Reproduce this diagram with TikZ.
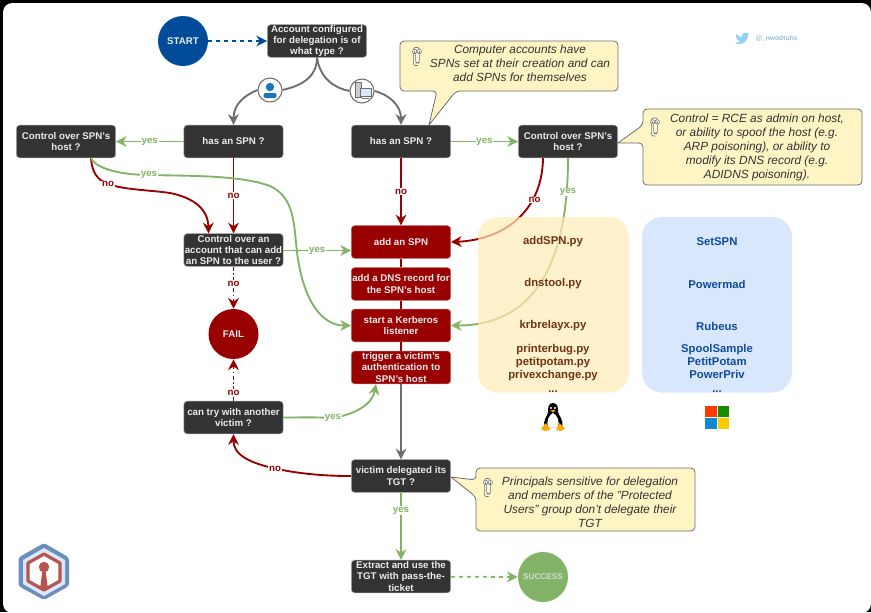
\documentclass[tikz,border=0pt]{standalone}
\usepackage{fontspec}
\setmainfont{Liberation Sans}
\usepackage{xcolor}
\usetikzlibrary{arrows.meta,calc,positioning}
\definecolor{boxdark}{HTML}{333333}
\definecolor{boxred}{HTML}{990000}
\definecolor{startblue}{HTML}{004C99}
\definecolor{yesgreen}{HTML}{82B366}
\definecolor{flowgray}{HTML}{6E6E6E}
\definecolor{notefill}{HTML}{FFF4C3}
\definecolor{panelyellow}{HTML}{FFECB6}
\definecolor{panelblue}{HTML}{CADEFB}
\definecolor{toolbrown}{HTML}{6E3413}
\definecolor{toolblue}{HTML}{0F4C9C}
\definecolor{birdblue}{HTML}{8FD0F5}
\definecolor{logoblue}{HTML}{6C8EBF}
\definecolor{logored}{HTML}{B85450}
\definecolor{logopale}{HTML}{DAE8FC}
\definecolor{usericon}{HTML}{1B75BB}
\tikzset{
    flowbox/.style={draw=gray!70,line width=.4pt,rounded corners=2.5pt,minimum width=74.5pt,minimum height=24.5pt,inner sep=0pt,align=center,text=white!92!black,font=\fontsize{7.3}{8.8}\selectfont\bfseries},
    darkbox/.style={flowbox,fill=boxdark},
    redbox/.style={flowbox,fill=boxred,draw=boxred!60},
    threelines/.style={font=\fontsize{7.3}{8.3}\selectfont\bfseries},
    endpoint/.style={circle,minimum size=37.5pt,inner sep=0pt,text=white!92!black,font=\fontsize{7.3}{8.8}\selectfont\bfseries},
    notebox/.style={draw=flowgray,line width=.6pt,fill=notefill,line join=round},
    notetext/.style={align=center,inner sep=0pt,text=black!80,font=\fontsize{8.9}{10.5}\selectfont\itshape},
    flowtip/.style={-{Stealth[length=8pt,width=8pt,inset=2.5pt]}},
    yeslink/.style={flowtip,draw=yesgreen,line width=1.4pt},
    nolink/.style={flowtip,draw=boxred,line width=1.4pt},
    graylink/.style={flowtip,draw=flowgray,line width=1.4pt},
    yeslab/.style={fill=white,inner sep=.6pt,text=yesgreen,font=\fontsize{7.3}{8}\selectfont\bfseries},
    nolab/.style={fill=white,inner sep=.6pt,text=boxred,font=\fontsize{7.3}{8}\selectfont\bfseries},
    panel/.style={rounded corners=15pt,fill opacity=.7},
    browntool/.style={inner sep=0pt,align=center,text=toolbrown,font=\fontsize{8.5}{10}\selectfont\bfseries},
    bluetool/.style={inner sep=0pt,align=center,text=toolblue,font=\fontsize{8.5}{10}\selectfont\bfseries},
    iconring/.style={circle,draw=flowgray,line width=.8pt,fill=white,minimum size=18pt,inner sep=0pt},
    clipicon/.pic={
        \draw[flowgray,line width=.5pt,rounded corners=1.6pt,fill=white,fill opacity=.4](-1.4,-2)--(-1.4,7)--(2.4,7)--(2.4,-8.5)--(-3.6,-8.5)--(-3.6,9.5)--(0.6,9.5);
        \draw[flowgray,line width=.4pt,fill=white](-2.3,-4.5)circle(2.2);
        \draw[flowgray,line width=.4pt,fill=white](2.3,-4.5)circle(2.2);
        \fill[black!70](-2.3,-4)circle(.8);
        \fill[black!70](2.3,-4)circle(.8);
    }
}
\begin{document}
\begin{tikzpicture}[x=.75pt,y=-.75pt]
                \useasboundingbox (0,0) rectangle (871,612);
                \fill[black](0,0)rectangle(871,612);
                \fill[white,rounded corners=7pt](3,3)rectangle(871,613);
                % notes
                \draw[notebox,rounded corners=3pt](400,41)--(618,41)--(618,91)--(456,91)[sharp corners]--(429,125)[rounded corners=3pt]--(437,91)--(400,91)--cycle;
                \draw[notebox,rounded corners=3pt](643,109)--(862,109)--(862,185)--(643,185)--(643,143)[sharp corners]--(618,143)[rounded corners=3pt]--(643,125)--cycle;
                \draw[notebox,rounded corners=3pt](476,468)--(695,468)--(695,531)--(476,531)--(476,497)[sharp corners]--(451,477)[rounded corners=3pt]--(476,480)--cycle;
                \node[notetext] at (520,63.5)(noteSpn){Computer accounts have\\SPNs set at their creation and can\\add SPNs for themselves};
                \node[notetext] at (757,147)(noteControl){Control = RCE as admin on host,\\or ability to spoof the host (e.g.\\ARP poisoning), or ability to\\modify its DNS record (e.g.\\ADIDNS poisoning).};
                \node[notetext] at (590,502.5)(noteSensitive){Principals sensitive for delegation\\and members of the "Protected\\Users" group don't delegate their\\TGT};
                \pic at (417,56){clipicon};
                \pic at (655,126.5){clipicon};
                \pic at (488,487){clipicon};
                % flow boxes
                \node[endpoint,fill=startblue] at (183,41)(start){START};
                \node[darkbox,threelines] at (317,41)(acct){Account configured\\for delegation is of\\what type ?};
                \node[darkbox] at (233.5,141.5)(hasUser){has an SPN ?};
                \node[darkbox] at (401,141.5)(hasHost){has an SPN ?};
                \node[darkbox] at (66,141.5)(ctrlLeft){Control over SPN's\\host ?};
                \node[darkbox] at (568,141.5)(ctrlRight){Control over SPN's\\host ?};
                \node[darkbox,threelines] at (233.5,250)(ctrlAcct){Control over an\\account that can add\\an SPN to the user ?};
                \node[redbox] at (401,242)(addSpn){add an SPN};
                \node[redbox] at (401,284)(addDns){add a DNS record for\\the SPN's host};
                \node[redbox] at (401,325.5)(listener){start a Kerberos\\listener};
                \node[redbox,threelines] at (401,367.5)(trigger){trigger a victim's\\authentication to\\SPN's host};
                \node[endpoint,fill=boxred] at (233.5,334)(fail){FAIL};
                \node[darkbox] at (233.5,417.5)(retry){can try with another\\victim ?};
                \node[darkbox] at (401,476)(delegated){victim delegated its\\TGT ?};
                \node[darkbox,threelines] at (401,576.5)(extract){Extract and use the\\TGT with pass-the-\\ticket};
                \node[endpoint,fill=yesgreen,text=white!85!black,font=\fontsize{6.2}{7}\selectfont\bfseries] at (543,577)(success){SUCCESS};
                \node[iconring] at (270,90)(userIcon){};
                \node[iconring] at (362,91)(hostIcon){};
                \fill[usericon](270,87)circle(4.2);
                \fill[usericon,rounded corners=1.5pt](263.5,98)--(263.5,93)--(276.5,93)--(276.5,98)--cycle;
                \draw[flowgray,line width=.5pt,fill=gray!40](355.5,82)rectangle(361,97);
                \draw[flowgray,line width=.5pt,fill=logopale](360,88)rectangle(371,96);
                \draw[flowgray,line width=.5pt](362,98.5)--(369,98.5);
                % connectors
                \draw[line width=1.4pt,draw=flowgray](acct.south)..controls(317,78)and(300,86)..(userIcon.east);
                \draw[line width=1.4pt,draw=flowgray](acct.south)..controls(320,78)and(334,88)..(hostIcon.west);
                \draw[graylink](userIcon.west)..controls(245,95)and(233.5,104)..(hasUser.north);
                \draw[graylink](hostIcon.east)..controls(390,95)and(401,106)..(hasHost.north);
                \draw[dashed,flowtip,draw=startblue,line width=1.4pt](start)--(acct);
                \draw[yeslink](hasUser)--(ctrlLeft)node[midway,yeslab](yesA){yes};
                \draw[yeslink](hasHost)--(ctrlRight)node[midway,yeslab](yesB){yes};
                \draw[nolink](hasUser)--(ctrlAcct)node[midway,nolab](noA){no};
                \draw[nolink](hasHost)--(addSpn)node[midway,nolab](noB){no};
                \draw[nolink]($(ctrlLeft.south west)!.75!(ctrlLeft.south east)$)..controls(92,172)and(97,180)..(108,184)node[nolab](noC){no}..controls(125,190)and(150,190)..(170,193)..controls(195,198)and(208,210)..($(ctrlAcct.north west)!.25!(ctrlAcct.north east)$);
                \draw[yeslink]($(ctrlLeft.south west)!.75!(ctrlLeft.south east)$)..controls(97,170)and(125,175)..(149,175)node[yeslab](yesC){yes}..controls(190,176)and(240,175)..(270,186)..controls(300,200)and(292,235)..(300,270)..controls(310,315)and(330,325.5)..(listener.west);
                \draw[yeslink](ctrlAcct.east|-250,250.5)--(addSpn.west|-250,250.5)node[midway,yeslab](yesD){yes};
                \draw[flowtip,draw=boxred,line width=1.4pt,dash pattern=on 3pt off 2pt on 1pt off 2pt](ctrlAcct)--(fail)node[pos=.4,nolab](noD){no};
                \draw[flowtip,draw=boxred,line width=1.4pt,dash pattern=on 3pt off 2pt on 1pt off 2pt](retry)--(fail)node[pos=.2,nolab](noE){no};
                \draw[line width=1.4pt,draw=boxred](addSpn)--(addDns);
                \draw[line width=1.4pt,draw=boxred](addDns)--(listener);
                \draw[line width=1.4pt,draw=boxred](listener)--(trigger);
                \draw[graylink,line width=1.8pt](trigger)--(delegated);
                \draw[yeslink](delegated)--(extract)node[pos=.27,yeslab](yesE){yes};
                \draw[yeslink,dashed](extract)--(success);
                \draw[nolink](delegated.west)..controls(325,476)and(300,474)..(275,468.5)node[nolab](noF){no}..controls(250,463)and(233.5,455)..(retry.south);
                \draw[yeslink](retry.east)..controls(300,417.5)and(315,417)..(333,418)node[yeslab](yesF){yes}..controls(355,414)and(372,405)..($(trigger.south west)!.25!(trigger.south east)$);
                \draw[nolink]($(ctrlRight.south west)!.25!(ctrlRight.south east)$)..controls(542,215)and(500,240)..(addSpn.east);
                \draw[yeslink](ctrlRight.south)..controls(568,270)and(530,325.5)..(listener.east);
                \node[nolab] at (534.5,200)(noG){no};
                \node[yeslab] at (568,192)(yesG){yes};
                % tool panels
                \fill[panel,panelyellow](478,217)rectangle(629,392.5);
                \fill[panel,panelblue](642,217)rectangle(792,392.5);
                \node[browntool] at (553,242)(addSpnPy){addSPN.py};
                \node[browntool] at (553,284)(dnsTool){dnstool.py};
                \node[browntool] at (553,326)(krbRelay){krbrelayx.py};
                \node[browntool] at (553,368)(coercePy){printerbug.py\\petitpotam.py\\privexchange.py\\...};
                \node[bluetool] at (717,242)(setSpn){SetSPN};
                \node[bluetool] at (717,284)(powermad){Powermad};
                \node[bluetool] at (717,326)(rubeus){Rubeus};
                \node[bluetool] at (717,368)(coerceWin){SpoolSample\\PetitPotam\\PowerPriv\\...};
                % penguin
                \fill[black](553,403)..controls(558,403)and(558,408)..(558,412)..controls(559,416)and(564,420)..(562,427)--(545,427)..controls(542,420)and(548,416)..(548,412)..controls(548,408)and(548,403)..(553,403)--cycle;
                \fill[white](553,413)..controls(557,415)and(560,421)..(558,427)--(548,427)..controls(546,421)and(549,415)..(553,413)--cycle;
                \fill[white](551,408)circle(1.2);
                \fill[white](555,408)circle(1.2);
                \fill[orange!70!yellow](550.5,410)--(555.5,410)--(553,412.5)--cycle;
                \fill[orange!70!yellow](541,429)--(546,423)--(550.5,429.5)--(545,431)--cycle;
                \fill[orange!70!yellow](565,428.5)--(559.5,423)--(556,429.5)--(561,431)--cycle;
                % windows
                \fill[red!55!orange](705,405.5)rectangle(716.5,416.5);
                \fill[green!50!black!90!yellow](717.5,405.5)rectangle(729,416.5);
                \fill[cyan!70!blue](705,417.5)rectangle(716.5,429);
                \fill[orange!40!yellow](717.5,417.5)rectangle(729,429);
                % twitter
                \fill[birdblue](748.5,33.5)..controls(748,44)and(738,46)..(735,43)..controls(738,43)and(739,42)..(740,41.5)..controls(737,41)and(736,38)..(736,34)..controls(738,36)and(740,37)..(742,37)..controls(741,33)and(746,31.5)..(748.5,33.5)--cycle;
                \node[inner sep=0pt,text=birdblue!80!gray,font=\fontsize{5}{6}\selectfont\bfseries] at (776.5,38.5)(handle){@\_nwodtuhs};
                % logo
                \fill[logoblue,rounded corners=2pt](44,543)--(69,557.5)--(69,586)--(44,600)--(18.5,586)--(18.5,557.5)--cycle;
                \fill[logopale](44,548)--(65,560)--(65,584)--(44,596)--(23,584)--(23,560)--cycle;
                \draw[logored,fill=white,line width=2.4pt,line join=round](44,554)--(60,563)--(60,581)--(44,590)--(28,581)--(28,563)--cycle;
                \fill[logored](44,567)circle(5.2);
                \fill[logored](42.5,570)--(45.5,570)--(48,589)--(40,589)--cycle;
            \end{tikzpicture}
\end{document}
